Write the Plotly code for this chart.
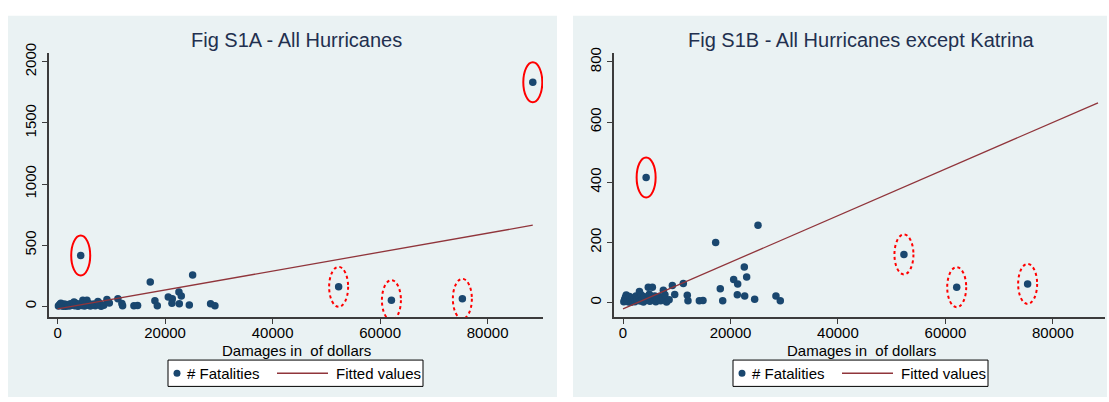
import plotly.graph_objects as go

# Normalized hurricane damages (millions of dollars) and fatalities
damages = [150, 300, 450, 600, 750, 900, 1050, 1200, 1350, 1500, 1650, 1800,
           2000, 2200, 2400, 2600, 3000, 3050, 3200, 3400, 3600, 3800, 4000,
           4300, 4500, 4700, 4900, 5000, 5200, 5460, 5700, 5900, 6100, 6400,
           6700, 7000, 7380, 7500, 7800, 8100, 8580, 9180, 9620, 11220, 11960,
           12090, 14200, 14880, 17240, 18100, 18550, 20590, 21340, 21270, 22570,
           23010, 22640, 24500, 25120, 28460, 29270, 52280, 62100, 75300, 88400]
fatalities = [3, 10, 18, 25, 6, 14, 2, 20, 8, 1, 15, 5,
              12, 3, 22, 9, 17, 37, 5, 25, 11, 2, 19,
              416, 8, 51, 28, 4, 15, 51, 9, 22, 3, 12,
              20, 6, 15, 41, 26, 2, 9, 57, 27, 63, 24,
              6, 6, 7, 200, 46, 6, 77, 62, 26, 118,
              85, 22, 11, 257, 22, 6, 160, 51, 62, 1833]

# Fitted regression line (end points)
fit_x = [0, 88400]
fit_y = [-21, 664]

# Highlighted storms: solid = outliers in fatalities, dotted = outliers in damages
solid_marks = [(4300, 416), (88400, 1833)]
dotted_marks = [(52280, 160), (62100, 51), (75300, 62)]

x_ticks = [0, 20000, 40000, 60000, 80000]
x_tick_text = ["0", "20000", "40000", "60000", "80000"]
y_ticks_a = [0, 500, 1000, 1500, 2000]
y_ticks_b = [0, 200, 400, 600, 800]

titles = ["Fig S1A - All Hurricanes", "Fig S1B - All Hurricanes except Katrina"]
x_title = "Damages in\u00a0 of dollars"
legend_labels = ["# Fatalities", "Fitted values"]

W, H = 1109, 402
NAVY = "#1a476f"
MAROON = "#90353b"
PANEL = "#eaf2f3"
AXIS = "#3c3c3c"
FONT = "Liberation Sans, Arial, sans-serif"
TXT = 15

katrina = max(range(len(fatalities)), key=lambda i: fatalities[i])
dam_b = [d for i, d in enumerate(damages) if i != katrina]
fat_b = [f for i, f in enumerate(fatalities) if i != katrina]

fig = go.Figure()

panels = [
    dict(xa="x", ya="y", xs=damages, ys=fatalities, off=0),
    dict(xa="x2", ya="y2", xs=dam_b, ys=fat_b, off=565),
]

for p in panels:
    fig.add_trace(go.Scatter(x=p["xs"], y=p["ys"], mode="markers",
                             marker=dict(color=NAVY, size=7.5, line=dict(width=0)),
                             xaxis=p["xa"], yaxis=p["ya"], showlegend=False,
                             cliponaxis=False))
    fig.add_trace(go.Scatter(x=fit_x, y=fit_y, mode="lines",
                             line=dict(color=MAROON, width=1.3),
                             xaxis=p["xa"], yaxis=p["ya"], showlegend=False))

shapes = []
annotations = []


def paper_x(px):
    return px / W


def paper_y(py):
    return 1 - py / H


for k, p in enumerate(panels):
    off = p["off"]
    # panel background
    shapes.append(dict(type="rect", xref="paper", yref="paper", layer="below",
                       x0=paper_x(8 + off), x1=paper_x(557 + off if k == 0 else 1107),
                       y0=paper_y(397), y1=paper_y(6),
                       fillcolor=PANEL, line=dict(width=0)))
    # highlight ellipses
    for (mx, my) in solid_marks:
        if mx in p["xs"]:
            shapes.append(dict(type="circle", xref=p["xa"], yref=p["ya"],
                               xsizemode="pixel", ysizemode="pixel",
                               xanchor=mx, yanchor=my, x0=-9.5, x1=9.5, y0=-20, y1=20,
                               line=dict(color="#ff0000", width=2)))
    for (mx, my) in dotted_marks:
        shapes.append(dict(type="circle", xref=p["xa"], yref=p["ya"],
                           xsizemode="pixel", ysizemode="pixel",
                           xanchor=mx, yanchor=my, x0=-9.5, x1=9.5, y0=-20, y1=20,
                           line=dict(color="#ff0000", width=2, dash="dot")))
    # title
    annotations.append(dict(text=titles[k], xref="paper", yref="paper",
                            x=paper_x(296 + off), y=paper_y(31), showarrow=False,
                            xanchor="center", yanchor="middle",
                            font=dict(size=20, color="#22304f", family=FONT)))
    # x axis title
    annotations.append(dict(text=x_title, xref="paper", yref="paper",
                            x=paper_x(296 + off), y=paper_y(349), showarrow=False,
                            xanchor="center", yanchor="middle",
                            font=dict(size=TXT, color="#000", family=FONT)))
    # legend box
    shapes.append(dict(type="rect", xref="paper", yref="paper",
                       x0=paper_x(168 + off), x1=paper_x(423 + off),
                       y0=paper_y(386), y1=paper_y(359),
                       fillcolor="white", line=dict(color="#000", width=1)))
    ly = paper_y(372.5)
    shapes.append(dict(type="circle", xref="paper", yref="paper",
                       xsizemode="pixel", ysizemode="pixel",
                       xanchor=paper_x(177 + off), yanchor=ly,
                       x0=-3.5, x1=3.5, y0=-3.5, y1=3.5,
                       fillcolor=NAVY, line=dict(width=0)))
    annotations.append(dict(text=legend_labels[0], xref="paper", yref="paper",
                            x=paper_x(185 + off), y=ly, showarrow=False,
                            xanchor="left", yanchor="middle",
                            font=dict(size=TXT, color="#000", family=FONT)))
    shapes.append(dict(type="line", xref="paper", yref="paper",
                       x0=paper_x(277 + off), x1=paper_x(328 + off), y0=ly, y1=ly,
                       line=dict(color=MAROON, width=1.3)))
    annotations.append(dict(text=legend_labels[1], xref="paper", yref="paper",
                            x=paper_x(334 + off), y=ly, showarrow=False,
                            xanchor="left", yanchor="middle",
                            font=dict(size=TXT, color="#000", family=FONT)))

common_x = dict(tickvals=x_ticks, ticktext=x_tick_text, ticks="outside", ticklen=5,
                tickwidth=1.3, tickcolor=AXIS, showline=True, linecolor=AXIS,
                linewidth=1.5, showgrid=False, zeroline=False, ticklabelstandoff=-4,
                tickfont=dict(size=TXT, color="#000", family=FONT))
common_y = dict(ticks="outside", ticklen=5, tickwidth=1.3, tickcolor=AXIS,
                showline=True, linecolor=AXIS, linewidth=1.5,
                showgrid=True, gridcolor=PANEL, gridwidth=1.3, zeroline=False,
                tickangle=-90,
                tickfont=dict(size=TXT, color="#000", family=FONT))

fig.update_layout(
    width=W, height=H,
    margin=dict(l=0, r=0, t=0, b=0),
    paper_bgcolor="white", plot_bgcolor="white",
    font=dict(family=FONT),
    showlegend=False,
    xaxis=dict(domain=[49 / W, 543 / W], range=[-1600, 90300], anchor="y", **common_x),
    yaxis=dict(domain=[1 - 315 / H, 1 - 44 / H], range=[-88, 2073], anchor="x",
               tickvals=y_ticks_a, **common_y),
    xaxis2=dict(domain=[614 / W, 1105 / W], range=[-1680, 89700], anchor="y2", **common_x),
    yaxis2=dict(domain=[1 - 315 / H, 1 - 44 / H], range=[-48.6, 830], anchor="x2",
                tickvals=y_ticks_b, **common_y),
    shapes=shapes,
    annotations=annotations,
)

fig.write_html("out.html")
